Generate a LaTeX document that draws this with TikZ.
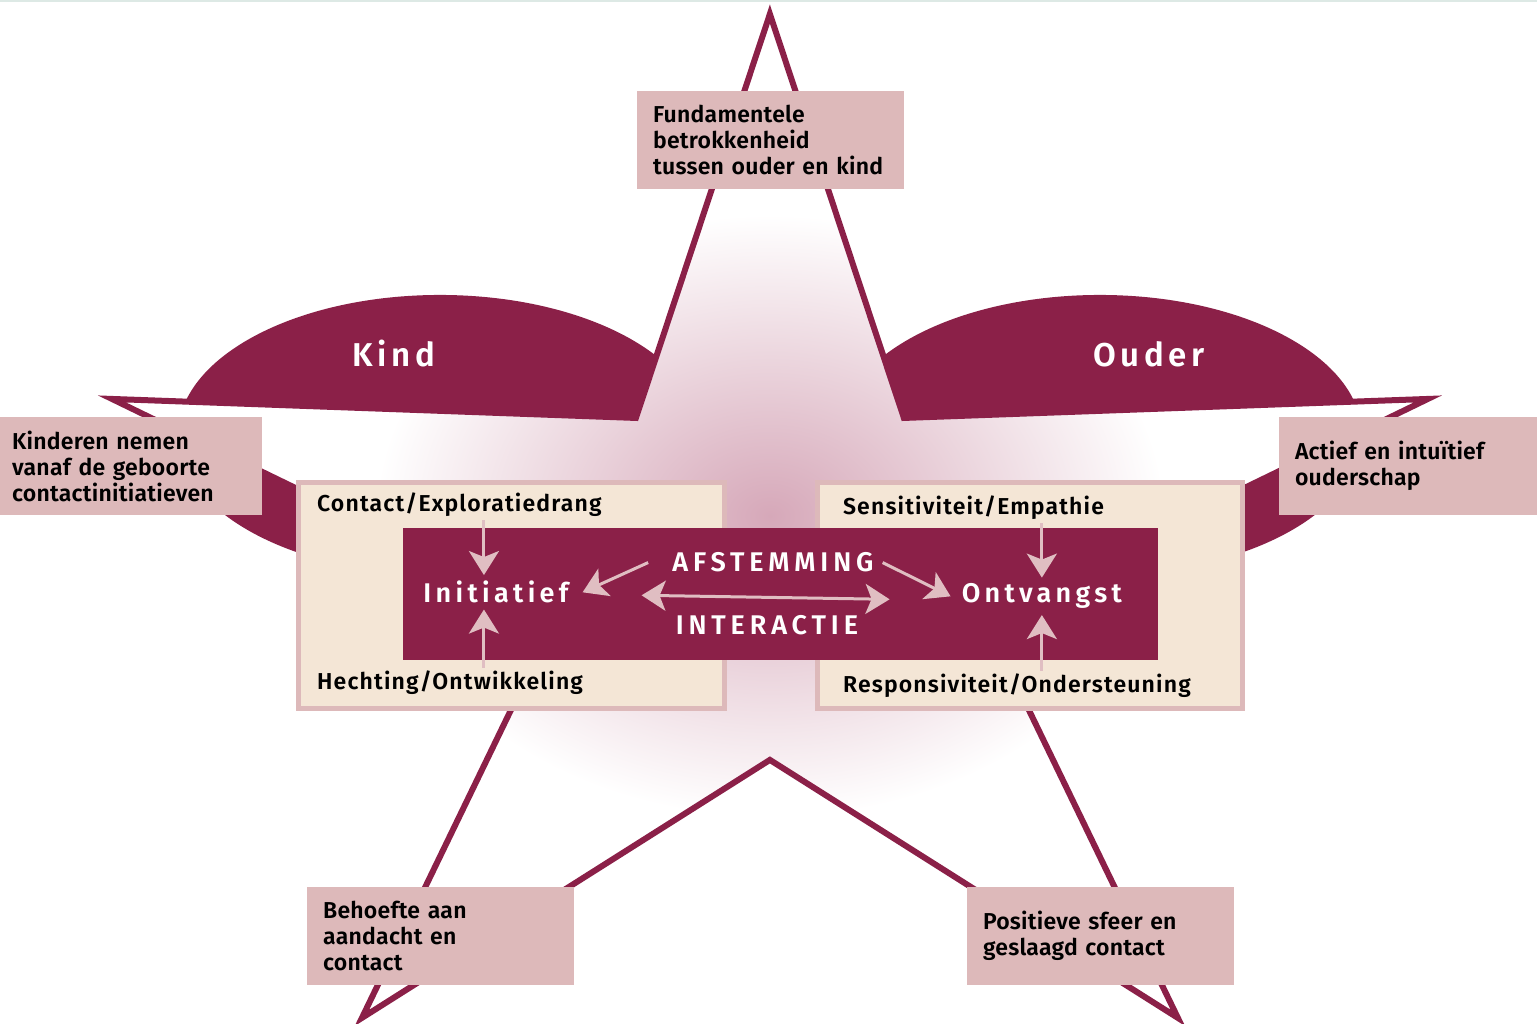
\documentclass[tikz,border=0pt]{standalone}
\usepackage{fontspec}
\setmainfont{Fira Sans}[BoldFont={Fira Sans SemiBold}]
\newfontfamily\etiket{Fira Sans SemiBold}[LetterSpace=1]
\newfontfamily\veldfont{Fira Sans SemiBold}[LetterSpace=5]
\newfontfamily\poolfont{Fira Sans SemiBold}[LetterSpace=14]
\newfontfamily\ruim{Fira Sans SemiBold}[LetterSpace=16]
\newfontfamily\ruimer{Fira Sans SemiBold}[LetterSpace=18]
\usetikzlibrary{arrows.meta}
\definecolor{wijn}{RGB}{139,32,72}
\definecolor{roze}{RGB}{221,185,186}
\definecolor{creme}{RGB}{244,230,214}
\definecolor{pijlroze}{RGB}{224,190,194}
\definecolor{gloed}{RGB}{214,168,185}
\definecolor{rand}{RGB}{221,233,229}
\pgfdeclareradialshading{gloedvlak}{\pgfpoint{0bp}{0bp}}{color(0bp)=(gloed); color(15bp)=(white); color(50bp)=(white)}

\begin{document}
\begin{tikzpicture}[x=1pt,y=-1pt,
                    label box/.style={fill=roze,anchor=north west,align=left,text width=235pt,
                      minimum height=98pt,inner xsep=16pt,inner ysep=0pt,
                      font=\etiket\fontsize{23}{26}\selectfont},
                    veld/.style={fill=creme,draw=roze,line width=5pt},
                    veld tekst/.style={anchor=base west,inner sep=3pt,font=\veldfont\fontsize{23}{26}\selectfont},
                    pool/.style={anchor=base,text=white,inner sep=0pt,font=\poolfont\fontsize{33}{36}\selectfont},
                    kern/.style={anchor=base,text=white,inner xsep=0pt,inner ysep=6pt,font=\ruim\fontsize{27}{30}\selectfont},
                    pijl/.style={draw=pijlroze,line width=3pt,-{Stealth[length=24pt,width=30pt,inset=6pt]}}]

  \fill[white] (0,0) rectangle (1537,1024);
  \fill[rand] (0,0) rectangle (1537,2.5);
  \fill[wijn] (440,435) ellipse [x radius=262pt,y radius=140pt];
  \fill[wijn] (1100,435) ellipse [x radius=262pt,y radius=140pt];
  \draw[draw=wijn,line width=6pt,shade,shading=gloedvlak]
    (770,14) -- (904,418) -- (1428,399) -- (983,615) -- (1178,1018) -- (770,760)
    -- (362,1018) -- (557,615) -- (112,399) -- (636,418) -- cycle;

  \filldraw[veld] (298.5,482.5) rectangle (724.5,708.5);
  \filldraw[veld] (817.5,482.5) rectangle (1242.5,708.5);
  \fill[wijn] (403,528) rectangle (1158,660);

  \node[label box] (fundament) at (637,91) {Fundamentele\\betrokkenheid\\tussen ouder en kind};
  \node[label box,text width=238pt,inner xsep=12pt] (kinderen) at (0,417) {Kinderen nemen\\vanaf de geboorte\\contactinitiatieven};
  \node[label box,text width=226pt] (ouderschap) at (1279,417) {Actief en intuïtief\\ouderschap};
  \node[label box] (behoefte) at (307,887) {Behoefte aan\\aandacht en\\contact};
  \node[label box] (sfeer) at (967,887) {Positieve sfeer en\\geslaagd contact};

  \node[pool] (kind) at (394,367) {Kind};
  \node[pool] (ouder) at (1149,367) {Ouder};

  \node[veld tekst] (contact) at (314,512) {Contact/Exploratiedrang};
  \node[veld tekst] (hechting) at (314,690) {Hechting/Ontwikkeling};
  \node[veld tekst] (sensitief) at (840,515) {Sensitiviteit/Empathie};
  \node[veld tekst] (respons) at (840,693) {Responsiviteit/Ondersteuning};

  \node[kern] (initiatief) at (496,603) {Initiatief};
  \node[kern] (ontvangst) at (1042,603) {Ontvangst};
  \node[kern,font=\ruimer\fontsize{27}{30}\selectfont] (afstemming) at (773,572) {AFSTEMMING};
  \node[kern,font=\ruimer\fontsize{27}{30}\selectfont] (interactie) at (767,635) {INTERACTIE};

  \draw[pijl] (contact.south -| initiatief.north) ++(-12,0) -- ([xshift=-12pt]initiatief.north);
  \draw[pijl] (hechting.north -| initiatief.south) ++(-12,0) -- ([xshift=-12pt]initiatief.south);
  \draw[pijl] (sensitief.south -| ontvangst.north) -- (ontvangst.north);
  \draw[pijl] (respons.north -| ontvangst.south) -- (ontvangst.south);
  \draw[pijl] ([xshift=-24pt]afstemming.west) -- ([xshift=14pt]initiatief.east);
  \draw[pijl] ([xshift=9pt]afstemming.east) -- ([xshift=-11pt]ontvangst.west);
  \draw[pijl,{Stealth[length=24pt,width=30pt,inset=6pt]}-{Stealth[length=24pt,width=30pt,inset=6pt]}]
    ([xshift=73pt,yshift=-3pt]initiatief.east) -- ([xshift=-72pt,yshift=-3pt]ontvangst.west);
\end{tikzpicture}
\end{document}
